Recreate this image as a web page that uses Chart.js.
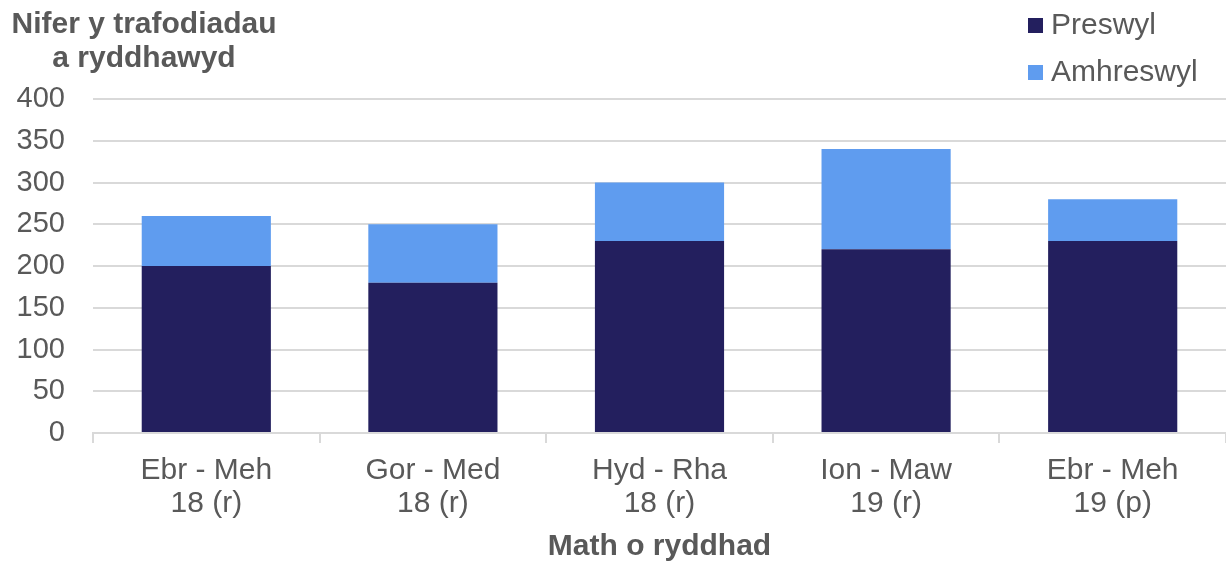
<!DOCTYPE html>
<html>
<head>
<meta charset="utf-8">
<script src="https://cdn.jsdelivr.net/npm/chart.js@4"></script>
<style>
  html, body { margin: 0; padding: 0; background: #fff; }
  #wrap { width: 1226px; height: 562px; position: relative; }
</style>
</head>
<body>
<div id="wrap"><canvas id="chart"></canvas></div>
<script>
// ----- Data
const categories = [
    ["Ebr - Meh", "18 (r)"],
    ["Gor - Med", "18 (r)"],
    ["Hyd - Rha", "18 (r)"],
    ["Ion - Maw", "19 (r)"],
    ["Ebr - Meh", "19 (p)"]
];
const preswyl = [200, 180, 230, 220, 230];
const amhreswyl = [60, 70, 70, 120, 50];
const yTitle = ["Nifer y trafodiadau", "a ryddhawyd"];
const xTitle = "Math o ryddhad";

const textColor = '#595959';
const gridColor = '#d9d9d9';
const fontFamily = '"Liberation Sans", Arial, sans-serif';

// Draw y-axis title above the axis and a stacked legend top right
const extras = {
    id: 'extras',
    afterDraw(chart) {
        const c = chart.ctx;
        c.save();
        c.fillStyle = textColor;
        c.font = `bold 30px ${fontFamily}`;
        c.textAlign = 'center';
        c.textBaseline = 'middle';
        c.fillText(yTitle[0], 144, 25);
        c.fillText(yTitle[1], 144, 59);

        c.font = `30px ${fontFamily}`;
        c.textAlign = 'left';
        const rows = [25, 72];
        chart.data.datasets.forEach((ds, i) => {
            c.fillStyle = ds.backgroundColor;
            c.fillRect(1028, rows[i] - 7, 15, 15);
            c.fillStyle = textColor;
            c.fillText(ds.label, 1051, rows[i] + 1);
        });
        c.restore();
    }
};

new Chart(document.getElementById('chart'), {
    type: 'bar',
    data: {
        labels: categories,
        datasets: [
            { label: 'Preswyl', data: preswyl, backgroundColor: '#231f5e', stack: 's' },
            { label: 'Amhreswyl', data: amhreswyl, backgroundColor: '#5f9cef', stack: 's' }
        ]
    },
    options: {
        responsive: true,
        maintainAspectRatio: false,
        animation: false,
        layout: { padding: { top: 99, right: 0, bottom: 0, left: 16 } },
        plugins: {
            legend: { display: false },
            tooltip: { enabled: false }
        },
        datasets: { bar: { categoryPercentage: 1, barPercentage: 0.57 } },
        scales: {
            x: {
                stacked: true,
                afterFit(scale) { scale.height = 129; },
                grid: { drawOnChartArea: false, color: gridColor, lineWidth: 2, tickLength: 10 },
                border: { display: true, color: gridColor, width: 2 },
                ticks: { color: textColor, font: { family: fontFamily, size: 30, lineHeight: 1.1 }, padding: 11, maxRotation: 0 },
                title: { display: true, text: xTitle, color: textColor, font: { family: fontFamily, size: 30, weight: 'bold', lineHeight: 1 }, padding: { top: 7, bottom: 0 } }
            },
            y: {
                stacked: true,
                min: 0, max: 400,
                afterFit(scale) { scale.width = 77; },
                ticks: { stepSize: 50, color: textColor, font: { family: fontFamily, size: 29 }, padding: 28 },
                grid: { color: gridColor, lineWidth: 2, drawTicks: false },
                border: { display: false }
            }
        }
    },
    plugins: [extras]
});
</script>
</body>
</html>
